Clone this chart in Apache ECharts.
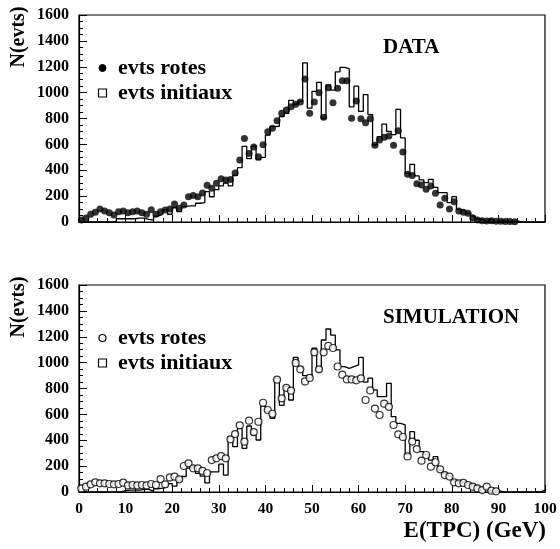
<!DOCTYPE html>
<html>
<head>
<meta charset="utf-8">
<script src="https://cdn.jsdelivr.net/npm/echarts@6/dist/echarts.min.js"></script>
<style>
html,body{margin:0;padding:0;background:#fff;}
#chart{width:560px;height:549px;}
</style>
</head>
<body>
<div id="chart"></div>
<script>
// Energy bins: 100 bins of 1 GeV from 0 to 100 GeV
const binStart = 0;
const binWidth = 1;
const xTicks = [0,10,20,30,40,50,60,70,80,90,100];
const yTicks = [0,200,400,600,800,1000,1200,1400,1600];

// DATA panel
const dataRotes = [15,30,60,75,100,85,72,54,80,85,
 72,80,85,72,60,95,60,80,93,100,
 140,106,131,196,205,195,225,285,260,299,
 335,325,328,378,480,645,530,580,505,598,
 698,724,783,840,866,891,910,928,1105,840,
 928,1000,809,1038,922,1033,1092,1092,801,935,
 798,768,798,593,634,655,665,593,706,541,
 369,360,295,286,253,278,222,131,183,100,
 157,85,75,67,33,15,10,8,10,5,
 5,3,3,2,0,0,0,0,0,0];
const dataInit = [0,0,0,0,0,0,0,5,25,25,
 25,25,30,30,20,15,45,60,95,60,
 110,80,120,125,125,145,150,235,195,250,
 280,300,280,360,420,585,490,585,480,500,
 672,737,740,814,840,940,910,935,1230,880,
 1010,1080,800,1060,1020,1160,1195,1185,890,1050,
 855,985,830,595,660,757,700,675,870,650,
 376,446,356,325,304,330,268,227,227,150,
 196,98,85,67,46,25,15,0,20,0,
 15,0,0,8,0,0,0,0,0,0];

// SIMULATION panel
const simRotes = [28,41,59,75,67,67,62,59,62,72,
 51,54,51,54,51,62,54,100,59,113,
 119,98,201,222,183,183,163,147,247,260,
 278,260,407,448,515,389,551,463,543,690,
 634,605,868,724,805,783,998,948,855,882,
 1080,948,1080,1129,1113,970,907,870,870,863,
 879,711,785,645,595,683,658,518,446,425,
 275,390,332,242,286,196,230,175,131,119,
 75,67,70,54,41,28,15,41,10,5,
 0,0,0,0,0,0,0,0,0,0];
const simInit = [0,0,0,0,0,0,0,0,0,10,
 15,15,15,20,20,5,25,30,40,65,
 45,85,120,185,200,144,122,70,155,155,
 216,131,428,350,492,337,510,440,402,665,
 621,570,879,670,814,711,1041,969,900,880,
 1111,930,1175,1260,1213,1098,969,956,969,982,
 1040,850,880,790,737,737,840,582,531,518,
 290,466,400,312,290,247,273,170,144,124,
 88,75,80,67,54,41,28,15,0,15,
 0,0,0,0,0,0,0,0,0,15];

const panelTitles = ['DATA', 'SIMULATION'];
const legendNames = ['evts rotes', 'evts initiaux'];
const yTitle = 'N(evts)';
const xTitle = 'E(TPC) (GeV)';

const FONT = 'Liberation Serif';

function histData(vals){
  const d = vals.map((v,i)=>[binStart + i*binWidth, v]);
  d.push([binStart + vals.length*binWidth, vals[vals.length-1]]);
  return d;
}
function pointData(vals){
  const d = [];
  vals.forEach((v,i)=>{ if (v>0) d.push([binStart + (i+0.5)*binWidth, v]); });
  return d;
}

const grids = [
  {left:79, top:15, width:466, height:207, show:true, borderColor:'#000', borderWidth:1.2, backgroundColor:'transparent'},
  {left:79, top:285, width:466, height:207, show:true, borderColor:'#000', borderWidth:1.2, backgroundColor:'transparent'}
];

function xAxis(idx, showLabels){
  return {
    type:'value', gridIndex:idx, min:xTicks[0], max:xTicks[xTicks.length-1], interval:xTicks[1]-xTicks[0],
    axisLine:{show:true, lineStyle:{color:'#000', width:1.2}},
    axisTick:{show:true, inside:true, length:7, lineStyle:{color:'#000', width:1}},
    minorTick:{show:true, splitNumber:5, length:4, lineStyle:{color:'#000', width:1}},
    splitLine:{show:false},
    axisLabel:{show:showLabels, color:'#000', fontFamily:FONT, fontWeight:'bold', fontSize:15.5, margin:9,
      formatter:(v)=>String(v)}
  };
}
function yAxis(idx){
  return {
    type:'value', gridIndex:idx, min:yTicks[0], max:yTicks[yTicks.length-1], interval:yTicks[1]-yTicks[0],
    axisLine:{show:true, lineStyle:{color:'#000', width:1.2}},
    axisTick:{show:true, inside:true, length:8, lineStyle:{color:'#000', width:1}},
    minorTick:{show:true, splitNumber:4, length:4, lineStyle:{color:'#000', width:1}},
    splitLine:{show:false},
    axisLabel:{show:true, color:'#000', fontFamily:FONT, fontWeight:'bold', fontSize:16, margin:10,
      formatter:(v)=>String(v)}
  };
}

const txt = (text, x, y, size, align, extra) => Object.assign({
  type:'text', x:x, y:y, z:100,
  style:{text:text, fill:'#000', font:'bold '+size+'px "'+FONT+'"', textAlign:align||'left', textVerticalAlign:'middle'}
}, extra||{});

const graphic = [];
const legendY = [[68, 93], [338, 363]];
[0,1].forEach(p=>{
  const [y1,y2] = legendY[p];
  graphic.push({type:'circle', shape:{cx:102.5, cy:y1, r:3.5}, z:100,
    style: p===0 ? {fill:'#000', stroke:'#000', lineWidth:1} : {fill:'#fff', stroke:'#000', lineWidth:1.2}});
  graphic.push(txt(legendNames[0], 118, y1, 22, 'left'));
  graphic.push({type:'rect', shape:{x:98.5, y:y2-4, width:8, height:8}, z:100,
    style:{fill:'#fff', stroke:'#000', lineWidth:1.2}});
  graphic.push(txt(legendNames[1], 118, y2, 22, 'left'));
  graphic.push(txt(panelTitles[p], 383, p===0?48:318, 21, 'left'));
  graphic.push(txt(yTitle, 19, p===0?37:307, 20, 'center', {rotation:Math.PI/2}));
});
graphic.push(txt(xTitle, 546, 531, 23, 'right'));

const option = {
  animation:false,
  backgroundColor:'#fff',
  grid:grids,
  xAxis:[xAxis(0,false), xAxis(1,true)],
  yAxis:[yAxis(0), yAxis(1)],
  series:[
    {name:legendNames[1], type:'line', xAxisIndex:0, yAxisIndex:0, step:'end', symbol:'none',
     lineStyle:{color:'#000', width:1.3}, data:histData(dataInit), z:2},
    {name:legendNames[0], type:'scatter', xAxisIndex:0, yAxisIndex:0, symbol:'circle', symbolSize:7,
     itemStyle:{color:'#000'}, data:pointData(dataRotes), z:3},
    {name:legendNames[1], type:'line', xAxisIndex:1, yAxisIndex:1, step:'end', symbol:'none',
     lineStyle:{color:'#000', width:1.3}, data:histData(simInit), z:2},
    {name:legendNames[0], type:'scatter', xAxisIndex:1, yAxisIndex:1, symbol:'circle', symbolSize:7,
     itemStyle:{color:'#fff', borderColor:'#000', borderWidth:1.2}, data:pointData(simRotes), z:3}
  ],
  graphic:graphic
};

const chart = echarts.init(document.getElementById('chart'), null, {renderer:'canvas'});
chart.setOption(option);
</script>
</body>
</html>
